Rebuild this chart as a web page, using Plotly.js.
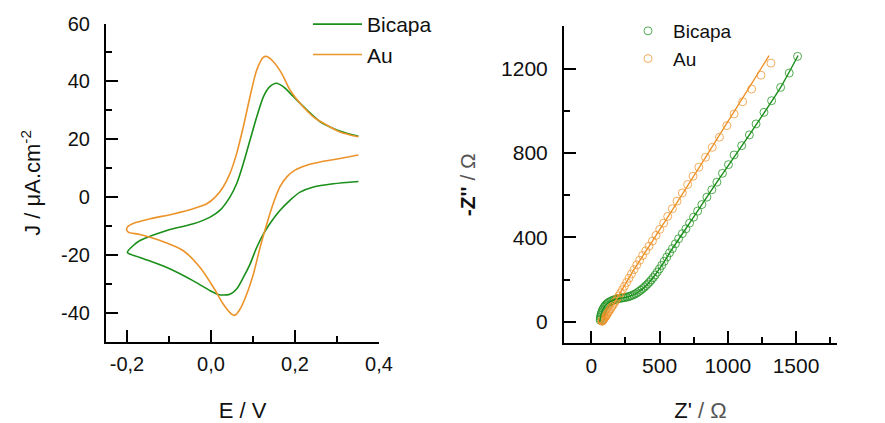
<!DOCTYPE html>
<html>
<head>
<meta charset="utf-8">
<script src="https://cdn.plot.ly/plotly-3.0.1.min.js"></script>
<style>
  html, body { margin: 0; padding: 0; background: #fff; }
  #chart { width: 885px; height: 423px; }
</style>
</head>
<body>
<div id="chart"></div>
<script>
// ---- Cyclic voltammograms: cathodic sweep from 0.35 V to -0.2 V, then anodic sweep back ----
const cvBicapaE = [0.351, 0.291, 0.244, 0.212, 0.188, 0.164, 0.140, 0.125, 0.109, 0.093, 0.077, 0.061, 0.045, 0.030, 0.015, -0.002, -0.042, -0.105, -0.169, -0.199,
                   -0.185, -0.169, -0.105, -0.042, -0.002, 0.021, 0.045, 0.061, 0.077, 0.093, 0.109, 0.125, 0.140, 0.156, 0.172, 0.196, 0.228, 0.260, 0.291, 0.323, 0.351];
const cvBicapaJ = [5.5, 4.7, 3.6, 1.8, -1.0, -4.5, -9.1, -12.6, -17.2, -23.0, -27.6, -31.6, -33.4, -33.7, -33.4, -32.2, -28.8, -24.2, -20.7, -19.0,
                   -16.6, -14.9, -11.4, -9.1, -6.8, -4.5, 0.1, 4.7, 11.7, 19.8, 27.8, 34.8, 38.2, 39.4, 38.2, 34.8, 30.2, 26.1, 23.8, 22.1, 21.1];

const cvAuE = [0.351, 0.307, 0.260, 0.228, 0.200, 0.180, 0.164, 0.148, 0.133, 0.117, 0.101, 0.085, 0.069, 0.057, 0.049, 0.029, 0.006, -0.026, -0.066, -0.121, -0.169, -0.197, -0.201,
               -0.197, -0.184, -0.145, -0.090, -0.042, -0.010, 0.010, 0.029, 0.045, 0.061, 0.077, 0.093, 0.109, 0.125, 0.133, 0.148, 0.168, 0.188, 0.212, 0.244, 0.275, 0.307, 0.351];
const cvAuJ = [14.6, 13.4, 12.2, 11.1, 9.4, 7.0, 3.6, -2.2, -9.1, -17.2, -26.4, -33.4, -38.6, -40.7, -40.3, -36.8, -31.1, -24.2, -18.4, -14.9, -12.8, -12.0, -11.0,
               -9.9, -8.9, -7.4, -5.7, -3.9, -2.2, 0.1, 3.6, 8.2, 15.1, 24.4, 34.8, 44.0, 48.4, 48.6, 46.9, 42.9, 37.1, 32.5, 27.8, 25.0, 22.6, 20.9];

const cvETicks = [-0.2, 0, 0.2, 0.4];
const cvETickText = ['-0,2', '0,0', '0,2', '0,4'];
const cvEMinor = [-0.1, 0.1, 0.3];
const cvJTicks = [-40, -20, 0, 20, 40, 60];
const cvJTickText = ['-40', '-20', '0', '20', '40', '60'];
const cvJMinor = [-50, -30, -10, 10, 30, 50];

// ---- Impedance (Nyquist): measured points, high to low frequency ----
const eisBicapaZre = [65, 66, 68, 70, 73, 77, 82, 87, 93, 100, 107, 115, 124, 134, 145, 156, 168, 180, 193, 206, 219, 232, 245, 258, 271, 284, 297, 310, 323, 336,
                      349, 362, 375, 388, 401, 414, 427, 440, 454, 468, 483, 499, 516, 534, 553, 573, 594, 616, 640, 667, 693, 720, 749, 779, 810, 847, 883, 920,
                      961, 1005, 1046, 1102, 1158, 1207, 1265, 1321, 1387, 1450, 1511];
const eisBicapaZim = [8, 15, 23, 31, 39, 47, 55, 62, 69, 75, 81, 86, 91, 95, 99, 102, 105, 107, 109, 111, 112, 114, 115, 117, 119, 122, 125, 129, 133, 138,
                      144, 150, 157, 164, 172, 180, 189, 199, 210, 222, 236, 251, 268, 287, 307, 327, 347, 370, 394, 418, 441, 468, 496, 525, 556, 591, 626, 662,
                      704, 745, 791, 835, 886, 938, 993, 1048, 1111, 1179, 1258];

const eisAuZre = [78, 79, 81, 83, 86, 89, 93, 97, 102, 107, 113, 119, 126, 133, 141, 149, 158, 168, 178, 189, 201, 214, 228, 243, 259, 276, 294, 313, 333, 354,
                  376, 399, 423, 448, 474, 501, 530, 560, 594, 628, 667, 706, 745, 788, 837, 886, 939, 993, 1046, 1109, 1175, 1243, 1316];
const eisAuZim = [3, 4, 5, 7, 9, 12, 15, 19, 23, 28, 34, 40, 47, 54, 62, 70, 79, 89, 99, 111, 123, 137, 152, 169, 187, 207, 227, 248, 270, 292,
                  315, 337, 359, 383, 410, 438, 468, 500, 536, 572, 611, 651, 690, 733, 780, 827, 875, 930, 985, 1043, 1103, 1169, 1226];

// ---- Equivalent-circuit fits ----
const fitBicapaZre = [62, 66, 73, 87, 107, 134, 168, 219, 271, 336, 414, 499, 594, 720, 920, 1158, 1387, 1515];
const fitBicapaZim = [0, 15, 39, 62, 81, 95, 105, 112, 119, 138, 180, 251, 347, 468, 662, 886, 1111, 1262];
const fitAuZre = [72, 90, 120, 178, 300, 448, 600, 837, 1060, 1302];
const fitAuZim = [0, 14, 42, 100, 235, 383, 537, 780, 1010, 1261];

const eisZreTicks = [0, 500, 1000, 1500];
const eisZreMinor = [250, 750, 1250, 1750];
const eisZimTicks = [0, 400, 800, 1200];
const eisZimMinor = [200, 600, 1000];

const GREEN = '#1a8f1a';
const ORANGE = '#ec932a';
const FONT = 'Arial, "Liberation Sans", sans-serif';
const INK = '#111';

const traces = [
  { x: cvBicapaE, y: cvBicapaJ, name: 'Bicapa', type: 'scatter', mode: 'lines',
    line: { color: GREEN, width: 1.6, shape: 'spline', smoothing: 0.8 }, xaxis: 'x', yaxis: 'y', legend: 'legend' },
  { x: cvAuE, y: cvAuJ, name: 'Au', type: 'scatter', mode: 'lines',
    line: { color: ORANGE, width: 1.6, shape: 'spline', smoothing: 0.8 }, xaxis: 'x', yaxis: 'y', legend: 'legend' },

  { x: eisBicapaZre, y: eisBicapaZim, name: 'Bicapa', type: 'scatter', mode: 'markers',
    marker: { symbol: 'circle-open', size: 8, color: GREEN, opacity: 0.75, line: { width: 1, color: GREEN } },
    xaxis: 'x2', yaxis: 'y2', legend: 'legend2' },
  { x: eisAuZre, y: eisAuZim, name: 'Au', type: 'scatter', mode: 'markers',
    marker: { symbol: 'circle-open', size: 8, color: ORANGE, opacity: 0.75, line: { width: 1, color: ORANGE } },
    xaxis: 'x2', yaxis: 'y2', legend: 'legend2' },
  { x: fitBicapaZre, y: fitBicapaZim, type: 'scatter', mode: 'lines', showlegend: false,
    line: { color: GREEN, width: 1.4, shape: 'spline', smoothing: 0.6 }, xaxis: 'x2', yaxis: 'y2' },
  { x: fitAuZre, y: fitAuZim, type: 'scatter', mode: 'lines', showlegend: false,
    line: { color: ORANGE, width: 1.4, shape: 'spline', smoothing: 0.6 }, xaxis: 'x2', yaxis: 'y2' }
];

function axisBase(extra) {
  return Object.assign({
    showline: true, linecolor: '#000', linewidth: 2,
    showgrid: false, zeroline: false,
    ticks: 'inside', ticklen: 12, tickwidth: 2, tickcolor: '#000',
    tickfont: { family: FONT, size: 20, color: INK },
    ticklabelstandoff: 10,
    fixedrange: true
  }, extra);
}

const layout = {
  width: 885, height: 423,
  margin: { l: 0, r: 0, t: 0, b: 0 },
  paper_bgcolor: '#fff', plot_bgcolor: 'rgba(0,0,0,0)',
  font: { family: FONT, color: INK },
  showlegend: true,
  xaxis: axisBase({
    domain: [0.11977, 0.42825], range: [-0.25, 0.4], anchor: 'y',
    tickmode: 'array', tickvals: cvETicks, ticktext: cvETickText,
    ticklabelstandoff: 3,
    minor: { tickmode: 'array', tickvals: cvEMinor, ticks: 'inside', ticklen: 6, tickwidth: 2, tickcolor: '#000' },
    title: { text: 'E / V', font: { family: FONT, size: 22, color: INK }, standoff: 30 }
  }),
  yaxis: axisBase({
    domain: [0.19078, 0.94444], range: [-50, 60], anchor: 'x',
    tickmode: 'array', tickvals: cvJTicks, ticktext: cvJTickText,
    minor: { tickmode: 'array', tickvals: cvJMinor, ticks: 'inside', ticklen: 6, tickwidth: 2, tickcolor: '#000' },
    title: { text: '\u00a0\u00a0\u00a0\u00a0\u00a0\u00a0J / \u03bcA.cm<sup>-2</sup>', font: { family: FONT, size: 22, color: INK }, standoff: 14 }
  }),
  xaxis2: axisBase({
    domain: [0.63729, 0.94576], range: [-200, 1800], anchor: 'y2',
    tickmode: 'array', tickvals: eisZreTicks,
    ticklabelstandoff: 3,
    tickfont: { family: FONT, size: 21, color: INK },
    minor: { tickmode: 'array', tickvals: eisZreMinor, ticks: 'inside', ticklen: 6, tickwidth: 2, tickcolor: '#000' },
    title: { text: "Z' <span style=\"color:#555\">/ \u03a9</span>", font: { family: FONT, size: 22, color: INK }, standoff: 40 }
  }),
  yaxis2: axisBase({
    domain: [0.18913, 0.93759], range: [-100, 1400], anchor: 'x2',
    tickmode: 'array', tickvals: eisZimTicks,
    tickfont: { family: FONT, size: 21, color: INK },
    minor: { tickmode: 'array', tickvals: eisZimMinor, ticks: 'inside', ticklen: 6, tickwidth: 2, tickcolor: '#000' },
    title: { text: "<b>-Z''</b> <span style=\"color:#555\">/ \u03a9</span>", font: { family: FONT, size: 21, color: INK }, standoff: 20 }
  }),
  legend: {
    x: 308 / 885, y: 1 - 4 / 423, xanchor: 'left', yanchor: 'top',
    bgcolor: 'rgba(0,0,0,0)', borderwidth: 0, itemwidth: 49,
    font: { family: FONT, size: 21, color: INK }, tracegroupgap: 0
  },
  legend2: {
    x: 623 / 885, y: 1 - 12 / 423, xanchor: 'left', yanchor: 'top',
    bgcolor: 'rgba(0,0,0,0)', borderwidth: 0, itemwidth: 40,
    font: { family: FONT, size: 19, color: INK }, tracegroupgap: 0
  }
};

Plotly.newPlot('chart', traces, layout, { displayModeBar: false, staticPlot: true });
</script>
</body>
</html>
